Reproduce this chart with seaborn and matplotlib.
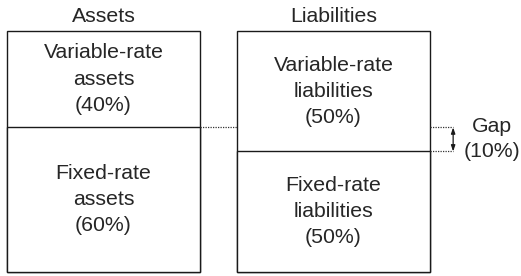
import matplotlib
matplotlib.use("Agg")
import matplotlib.pyplot as plt
import seaborn as sns
import pandas as pd

# balance sheet split, percent of each side
sides = ["Assets", "Liabilities"]
variable_share = [40, 50]
fixed_share = [60, 50]
variable_names = ["Variable-rate\nassets", "Variable-rate\nliabilities"]
fixed_names = ["Fixed-rate\nassets", "Fixed-rate\nliabilities"]
gap_name = "Gap"

sns.set_style("white")
plt.rcParams["font.family"] = ["Liberation Sans", "DejaVu Sans"]

df = pd.DataFrame({
    "side": sides,
    "total": [v + f for v, f in zip(variable_share, fixed_share)],
    "fixed": fixed_share,
})

BAR_W = 0.84
EDGE = "#1a1a1a"
FS = 15.3

fig = plt.figure(figsize=(5.21, 2.76), dpi=100)
ax = fig.add_axes([0, 0, 1, 1])

# whole box, then the fixed-rate part on top of it
sns.barplot(data=df, x="side", y="total", color="white", saturation=1,
            edgecolor=EDGE, linewidth=1.0, width=BAR_W, ax=ax)
sns.barplot(data=df, x="side", y="fixed", color="white", saturation=1,
            edgecolor=EDGE, linewidth=1.0, width=BAR_W, ax=ax)

for i, side in enumerate(sides):
    ax.text(i, 103.6, side, ha="center", va="baseline", fontsize=FS)
    ax.text(i, fixed_share[i] + variable_share[i] / 2,
            "{}\n({}%)".format(variable_names[i], variable_share[i]),
            ha="center", va="center", fontsize=FS, linespacing=1.48)
    ax.text(i, fixed_share[i] / 2,
            "{}\n({}%)".format(fixed_names[i], fixed_share[i]),
            ha="center", va="center", fontsize=FS, linespacing=1.48)

# dotted guide from the assets split across to liabilities
half = BAR_W / 2
dot = dict(color="#333333", lw=0.9, ls=(0, (1, 1)))
ax.plot([0 + half, 1 - half], [fixed_share[0]] * 2, **dot)

# gap marker on the right
arrow_x = 1.52
ax.plot([1 + half, arrow_x], [fixed_share[0]] * 2, **dot)
ax.plot([1 + half, arrow_x], [fixed_share[1]] * 2, **dot)
ax.annotate("", xy=(arrow_x, fixed_share[0]), xytext=(arrow_x, fixed_share[1]),
            arrowprops=dict(arrowstyle="<|-|>,head_length=0.35,head_width=0.12",
                            color=EDGE, lw=0.9, shrinkA=0, shrinkB=0))
gap = fixed_share[0] - fixed_share[1]
ax.text(1.69, (fixed_share[0] + fixed_share[1]) / 2 + 0.3,
        "{}\n({}%)".format(gap_name, gap),
        ha="center", va="center", fontsize=FS, linespacing=1.4)

ax.set_xlim(-0.45, 1.815)
ax.set_ylim(-1.66, 112.86)
ax.axis("off")

fig.savefig("out.png", dpi=100)
